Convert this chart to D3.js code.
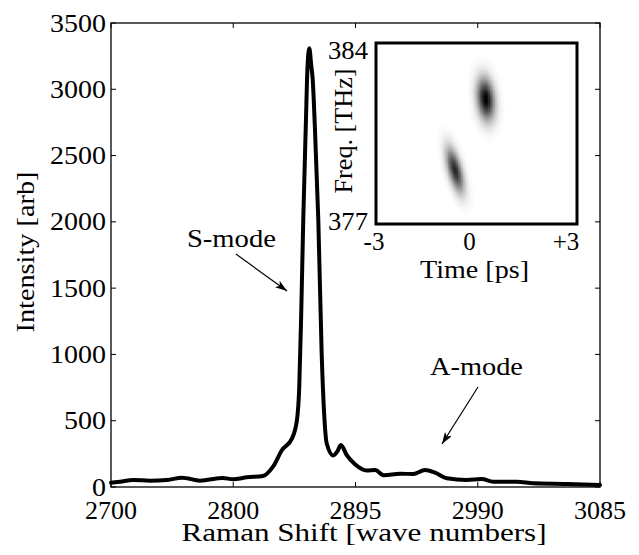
<!DOCTYPE html>
<html>
<head>
<meta charset="utf-8">
<script src="https://cdn.jsdelivr.net/npm/d3@7"></script>
<style>
  html, body { margin: 0; padding: 0; background: #fff; }
</style>
</head>
<body>
<script>
// ---------------- data ----------------
const ramanShift = [2705.0, 2712.0, 2722.1, 2735.3, 2748.5, 2760.2, 2774.2, 2792.0, 2799.8, 2810.7,
  2823.1, 2830.9, 2837.9, 2845.7, 2849.5, 2851.3, 2852.8, 2854.4, 2856.5, 2857.6, 2859.1, 2860.6,
  2861.7, 2863.5, 2866.1, 2868.7, 2870.6, 2872.6, 2877.7, 2881.0, 2883.7, 2888.2, 2894.6, 2903.7,
  2910.2, 2917.1, 2929.6, 2939.9, 2949.0, 2956.8, 2965.9, 2981.4, 2993.1, 3002.1, 3020.3, 3033.2,
  3059.1, 3085.0];
const intensity = [32, 40, 53, 48, 53, 70, 48, 68, 58, 73,
  83, 153, 279, 367, 505, 757, 1300, 2014, 2768, 3145, 3309, 3180,
  3080, 2700, 2014, 1011, 560, 330, 238, 270, 317, 240, 172, 125,
  128, 88, 100, 98, 128, 108, 66, 53, 60, 40, 40, 28,
  23, 15];

const xTickValues = [2705, 2800, 2895, 2990, 3085];
const xTickLabels = ["2700", "2800", "2895", "2990", "3085"];
const yTickValues = [0, 500, 1000, 1500, 2000, 2500, 3000, 3500];

// inset (time-frequency map): two lobes
const blobTime   = [0.28, -0.64];     // ps
const blobFreq   = [381.85, 379.1];   // THz
const blobSigmaT = [0.18, 0.18];      // ps
const blobSigmaF = [0.55, 0.58];      // THz
const blobCorr   = [-0.2, -0.6];
const blobPeak   = [1.0, 0.85];
const insetTimeTicks = [-3, 0, 3];
const insetTimeLabels = ["-3", "0", "+3"];
const insetFreqTicks = [377, 384];

// ---------------- drawing ----------------
const W = 639, H = 555;
const FONT = "'Liberation Serif', 'Times New Roman', Times, serif";
const svg = d3.select("body").append("svg")
  .attr("width", W).attr("height", H)
  .style("display", "block");
svg.append("rect").attr("width", W).attr("height", H).attr("fill", "#fff");

const L = 111, R = 600, T = 23, B = 487;
const x = d3.scaleLinear().domain([2705, 3085]).range([L, R]);
const y = d3.scaleLinear().domain([0, 3500]).range([B, T]);

// frame
svg.append("rect").attr("x", L).attr("y", T).attr("width", R - L).attr("height", B - T)
  .attr("fill", "none").attr("stroke", "#000").attr("stroke-width", 1.3);

const tickLen = 5;
const axisG = svg.append("g").attr("stroke", "#000").attr("stroke-width", 1);
xTickValues.forEach(v => {
  axisG.append("line").attr("x1", x(v)).attr("x2", x(v)).attr("y1", B).attr("y2", B - tickLen);
  axisG.append("line").attr("x1", x(v)).attr("x2", x(v)).attr("y1", T).attr("y2", T + tickLen);
});
yTickValues.forEach(v => {
  axisG.append("line").attr("x1", L).attr("x2", L + tickLen).attr("y1", y(v)).attr("y2", y(v));
  axisG.append("line").attr("x1", R).attr("x2", R - tickLen).attr("y1", y(v)).attr("y2", y(v));
});

function txt(g, s, size) {
  return g.append("text").style("font-family", FONT).attr("font-size", size).attr("fill", "#000").text(s);
}

// tick labels
xTickValues.forEach((v, i) => {
  txt(svg, xTickLabels[i], 25).attr("x", x(v)).attr("y", B + 32)
    .attr("text-anchor", "middle").attr("textLength", 52).attr("lengthAdjust", "spacingAndGlyphs");
});
yTickValues.forEach(v => {
  const s = String(v);
  txt(svg, s, 25).attr("x", L - 5).attr("y", y(v) + 8.5)
    .attr("text-anchor", "end")
    .attr("textLength", s.length * 14).attr("lengthAdjust", "spacingAndGlyphs");
});

// axis titles
txt(svg, "Raman Shift [wave numbers]", 25).attr("x", 364).attr("y", 541).attr("text-anchor", "middle")
  .attr("textLength", 365).attr("lengthAdjust", "spacingAndGlyphs");
txt(svg, "Intensity [arb]", 25).attr("transform", "translate(34,252) rotate(-90)").attr("text-anchor", "middle")
  .attr("textLength", 161).attr("lengthAdjust", "spacingAndGlyphs");

// spectrum line
const pts = ramanShift.map((v, i) => [v, intensity[i]]);
svg.append("path").datum(pts)
  .attr("fill", "none").attr("stroke", "#000").attr("stroke-width", 4)
  .attr("stroke-linejoin", "round").attr("stroke-linecap", "round")
  .attr("d", d3.line().x(d => x(d[0])).y(d => y(d[1])).curve(d3.curveMonotoneX));

// annotations
const defs = svg.append("defs");
defs.append("marker").attr("id", "arrow").attr("viewBox", "0 0 12 8")
  .attr("refX", 12).attr("refY", 4).attr("markerWidth", 12).attr("markerHeight", 8)
  .attr("markerUnits", "userSpaceOnUse").attr("orient", "auto")
  .append("path").attr("d", "M0,0 L12,4 L0,8 L3,4 Z").attr("fill", "#000");

txt(svg, "S-mode", 26).attr("x", x(2798.6)).attr("y", y(1810)).attr("text-anchor", "middle")
  .attr("textLength", 89).attr("lengthAdjust", "spacingAndGlyphs");
svg.append("line").attr("x1", x(2802.1)).attr("y1", y(1757)).attr("x2", x(2841.8)).attr("y2", y(1478))
  .attr("stroke", "#000").attr("stroke-width", 1.2).attr("marker-end", "url(#arrow)");

txt(svg, "A-mode", 25).attr("x", x(2989.0)).attr("y", y(845)).attr("text-anchor", "middle")
  .attr("textLength", 93).attr("lengthAdjust", "spacingAndGlyphs");
svg.append("line").attr("x1", x(2990.2)).attr("y1", y(754)).attr("x2", x(2962.2)).attr("y2", y(324))
  .attr("stroke", "#000").attr("stroke-width", 1.2).attr("marker-end", "url(#arrow)");

// ---------------- inset ----------------
const iL = 376, iR = 577, iT = 43, iB = 224;
const tx = d3.scaleLinear().domain([-3, 3]).range([iL, iR]);
const fy = d3.scaleLinear().domain([377, 384]).range([iB, iT]);

defs.append("clipPath").attr("id", "insetClip").append("rect")
  .attr("x", iL).attr("y", iT).attr("width", iR - iL).attr("height", iB - iT);

const nT = 120, nF = 100;
const dT = 6 / nT, dF = 7 / nF;
const cells = [];
for (let i = 0; i < nT; i++) {
  for (let j = 0; j < nF; j++) {
    const t = -3 + (i + 0.5) * dT, f = 377 + (j + 0.5) * dF;
    let v = 0;
    for (let k = 0; k < blobTime.length; k++) {
      const u = (t - blobTime[k]) / blobSigmaT[k];
      const w = (f - blobFreq[k]) / blobSigmaF[k];
      const r = blobCorr[k];
      const q = (u * u - 2 * r * u * w + w * w) / (1 - r * r);
      v += blobPeak[k] * Math.exp(-0.5 * q);
    }
    if (v > 0.01) cells.push({ t, f, v: Math.min(1, v) });
  }
}
const grey = d3.scaleLinear().domain([0, 1]).range(["#ffffff", "#000000"]);
const cellW = Math.abs(tx(dT) - tx(0)), cellH = Math.abs(fy(377 + dF) - fy(377));
const inset = svg.append("g");
inset.append("rect").attr("x", iL).attr("y", iT).attr("width", iR - iL).attr("height", iB - iT).attr("fill", "#fff");
inset.append("g").attr("clip-path", "url(#insetClip)")
  .selectAll("rect").data(cells).join("rect")
  .attr("x", d => tx(d.t - dT / 2)).attr("y", d => fy(d.f + dF / 2))
  .attr("width", cellW + 0.6).attr("height", cellH + 0.6)
  .attr("fill", d => grey(d.v));
inset.append("rect").attr("x", iL).attr("y", iT).attr("width", iR - iL).attr("height", iB - iT)
  .attr("fill", "none").attr("stroke", "#000").attr("stroke-width", 3);

// inset labels
const timeDx = [-2, -7, -11];
insetTimeTicks.forEach((v, i) => {
  txt(inset, insetTimeLabels[i], 25).attr("x", tx(v) + timeDx[i]).attr("y", 250).attr("text-anchor", "middle");
});
txt(inset, String(insetFreqTicks[1]), 25).attr("x", 368).attr("y", 59).attr("text-anchor", "end")
  .attr("textLength", 40).attr("lengthAdjust", "spacingAndGlyphs");
txt(inset, String(insetFreqTicks[0]), 25).attr("x", 368).attr("y", 230).attr("text-anchor", "end")
  .attr("textLength", 40).attr("lengthAdjust", "spacingAndGlyphs");
txt(inset, "Time [ps]", 25).attr("x", 474.5).attr("y", 278).attr("text-anchor", "middle")
  .attr("textLength", 109).attr("lengthAdjust", "spacingAndGlyphs");
txt(inset, "Freq. [THz]", 25).attr("transform", "translate(352,131) rotate(-90)").attr("text-anchor", "middle")
  .attr("textLength", 125).attr("lengthAdjust", "spacingAndGlyphs");
</script>
</body>
</html>
